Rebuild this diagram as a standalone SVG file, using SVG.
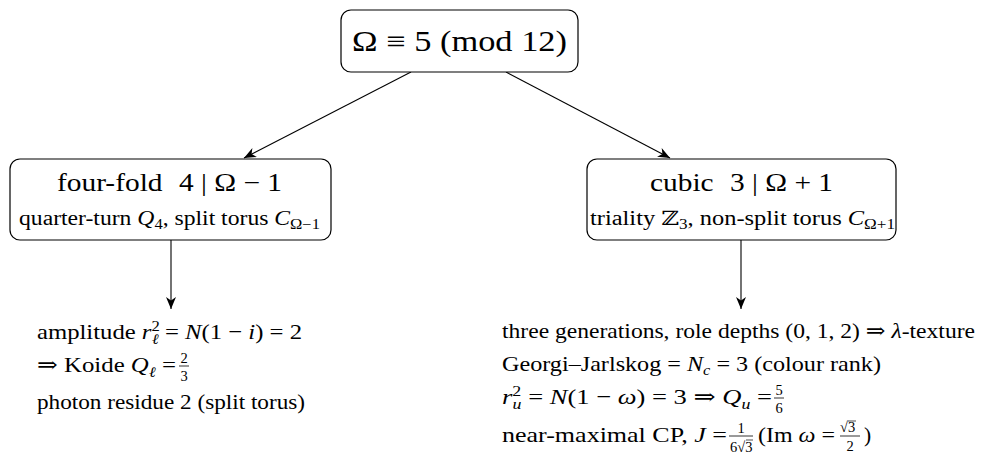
<svg xmlns="http://www.w3.org/2000/svg" width="982" height="464" viewBox="0 0 982 464">
<style>
.box{fill:#fff;stroke:#000;stroke-width:1.2}
.it{font-style:italic}
.top{font-size:29px}
.ttl{font-size:25px}
.sub{font-size:20px}
.li{font-size:21.5px}
.fr{font-size:14.5px}
.sm{font-size:14px}
.con{stroke:#000;stroke-width:1.1;fill:none}
</style>
<defs>
<marker id="ah" markerUnits="userSpaceOnUse" markerWidth="14" markerHeight="12" refX="12" refY="5" orient="auto">
<path d="M0,0 L12,5 L0,10 L3.5,5 Z" fill="#000"/>
</marker>
</defs>
<rect width="982" height="464" fill="#fff"/>

<g id="connectors">
<line class="con" x1="411" y1="72" x2="244" y2="158" marker-end="url(#ah)"/>
<line class="con" x1="506" y1="72" x2="670" y2="158" marker-end="url(#ah)"/>
<line class="con" x1="171" y1="240" x2="171" y2="309" marker-end="url(#ah)"/>
<line class="con" x1="741" y1="240" x2="741" y2="309" marker-end="url(#ah)"/>
</g>

<g font-family="Liberation Serif, DejaVu Serif, serif" fill="#000">
<g id="root">
<rect class="box" x="341" y="10" width="237" height="62" rx="10"/>
<text class="top" x="352" y="51" textLength="215" lengthAdjust="spacingAndGlyphs">Ω ≡ 5 (mod 12)</text>
</g>

<g id="fourfold">
<rect class="box" x="10" y="159" width="321" height="81" rx="10"/>
<text class="ttl" x="57" y="191" textLength="225" lengthAdjust="spacingAndGlyphs">four-fold<tspan dx="14">4 | Ω − 1</tspan></text>
<text class="sub" x="19" y="225" textLength="301" lengthAdjust="spacingAndGlyphs">quarter-turn <tspan class="it">Q</tspan><tspan class="sm" dy="4">4</tspan><tspan dy="-4">, split torus </tspan><tspan class="it">C</tspan><tspan class="sm" dy="4">Ω−1</tspan></text>
</g>

<g id="cubic">
<rect class="box" x="587" y="159" width="309" height="81" rx="10"/>
<text class="ttl" x="650" y="191" textLength="183" lengthAdjust="spacingAndGlyphs">cubic<tspan dx="14">3 | Ω + 1</tspan></text>
<text class="sub" x="590" y="225" textLength="305" lengthAdjust="spacingAndGlyphs">triality ℤ<tspan class="sm" dy="4">3</tspan><tspan dy="-4">, non-split torus </tspan><tspan class="it">C</tspan><tspan class="sm" dy="4">Ω+1</tspan></text>
</g>

<g id="fourfold-notes">
<text class="li" x="37" y="339" textLength="265" lengthAdjust="spacingAndGlyphs">amplitude <tspan class="it">r</tspan><tspan class="fr" dy="-8">2</tspan><tspan class="fr it" dx="-7" dy="13">ℓ</tspan><tspan dy="-5"> = </tspan><tspan class="it">N</tspan>(1 − <tspan class="it">i</tspan>) = 2</text>
<text class="li" x="37" y="372" textLength="139" lengthAdjust="spacingAndGlyphs">⇒ Koide <tspan class="it">Q</tspan><tspan class="fr it" dy="5">ℓ</tspan><tspan dy="-5"> =</tspan></text>
<text class="fr" x="184" y="362.5" text-anchor="middle">2</text>
<line x1="179" y1="366" x2="189" y2="366" stroke="#000" stroke-width="0.8"/>
<text class="fr" x="184" y="381" text-anchor="middle">3</text>
<text class="li" x="37" y="409" textLength="268" lengthAdjust="spacingAndGlyphs">photon residue 2 (split torus)</text>
</g>

<g id="cubic-notes">
<text class="li" x="502" y="338" textLength="473" lengthAdjust="spacingAndGlyphs">three generations, role depths (0, 1, 2) ⇒ <tspan class="it">λ</tspan>-texture</text>
<text class="li" x="502" y="371" textLength="379" lengthAdjust="spacingAndGlyphs">Georgi–Jarlskog = <tspan class="it">N</tspan><tspan class="fr it" dy="4">c</tspan><tspan dy="-4"> = 3 (colour rank)</tspan></text>
<text class="li" x="502" y="404" textLength="270" lengthAdjust="spacingAndGlyphs"><tspan class="it">r</tspan><tspan class="fr" dy="-8">2</tspan><tspan class="fr it" dx="-7" dy="13">u</tspan><tspan dy="-5"> = </tspan><tspan class="it">N</tspan>(1 − <tspan class="it">ω</tspan>) = 3 ⇒ <tspan class="it">Q</tspan><tspan class="fr it" dy="5">u</tspan><tspan dy="-5"> =</tspan></text>
<text class="fr" x="779" y="394.5" text-anchor="middle">5</text>
<line x1="774" y1="398" x2="784" y2="398" stroke="#000" stroke-width="0.8"/>
<text class="fr" x="779" y="413" text-anchor="middle">6</text>
<text class="li" x="502" y="442" textLength="225" lengthAdjust="spacingAndGlyphs">near-maximal CP, <tspan class="it">J</tspan> =</text>
<text class="fr" x="741" y="432.5" text-anchor="middle">1</text>
<line x1="729" y1="436" x2="753" y2="436" stroke="#000" stroke-width="0.8"/>
<text class="fr" x="730" y="452">6√3</text>
<line x1="746" y1="440" x2="753" y2="440" stroke="#000" stroke-width="0.7"/>
<text class="li" x="758" y="442" textLength="77" lengthAdjust="spacingAndGlyphs">(Im <tspan class="it">ω</tspan> =</text>
<text class="fr" x="840" y="432">√3</text>
<line x1="848" y1="421" x2="856" y2="421" stroke="#000" stroke-width="0.7"/>
<line x1="840" y1="436" x2="860" y2="436" stroke="#000" stroke-width="0.8"/>
<text class="fr" x="850" y="451" text-anchor="middle">2</text>
<text class="li" x="864" y="442">)</text>
</g>
</g>
</svg>
